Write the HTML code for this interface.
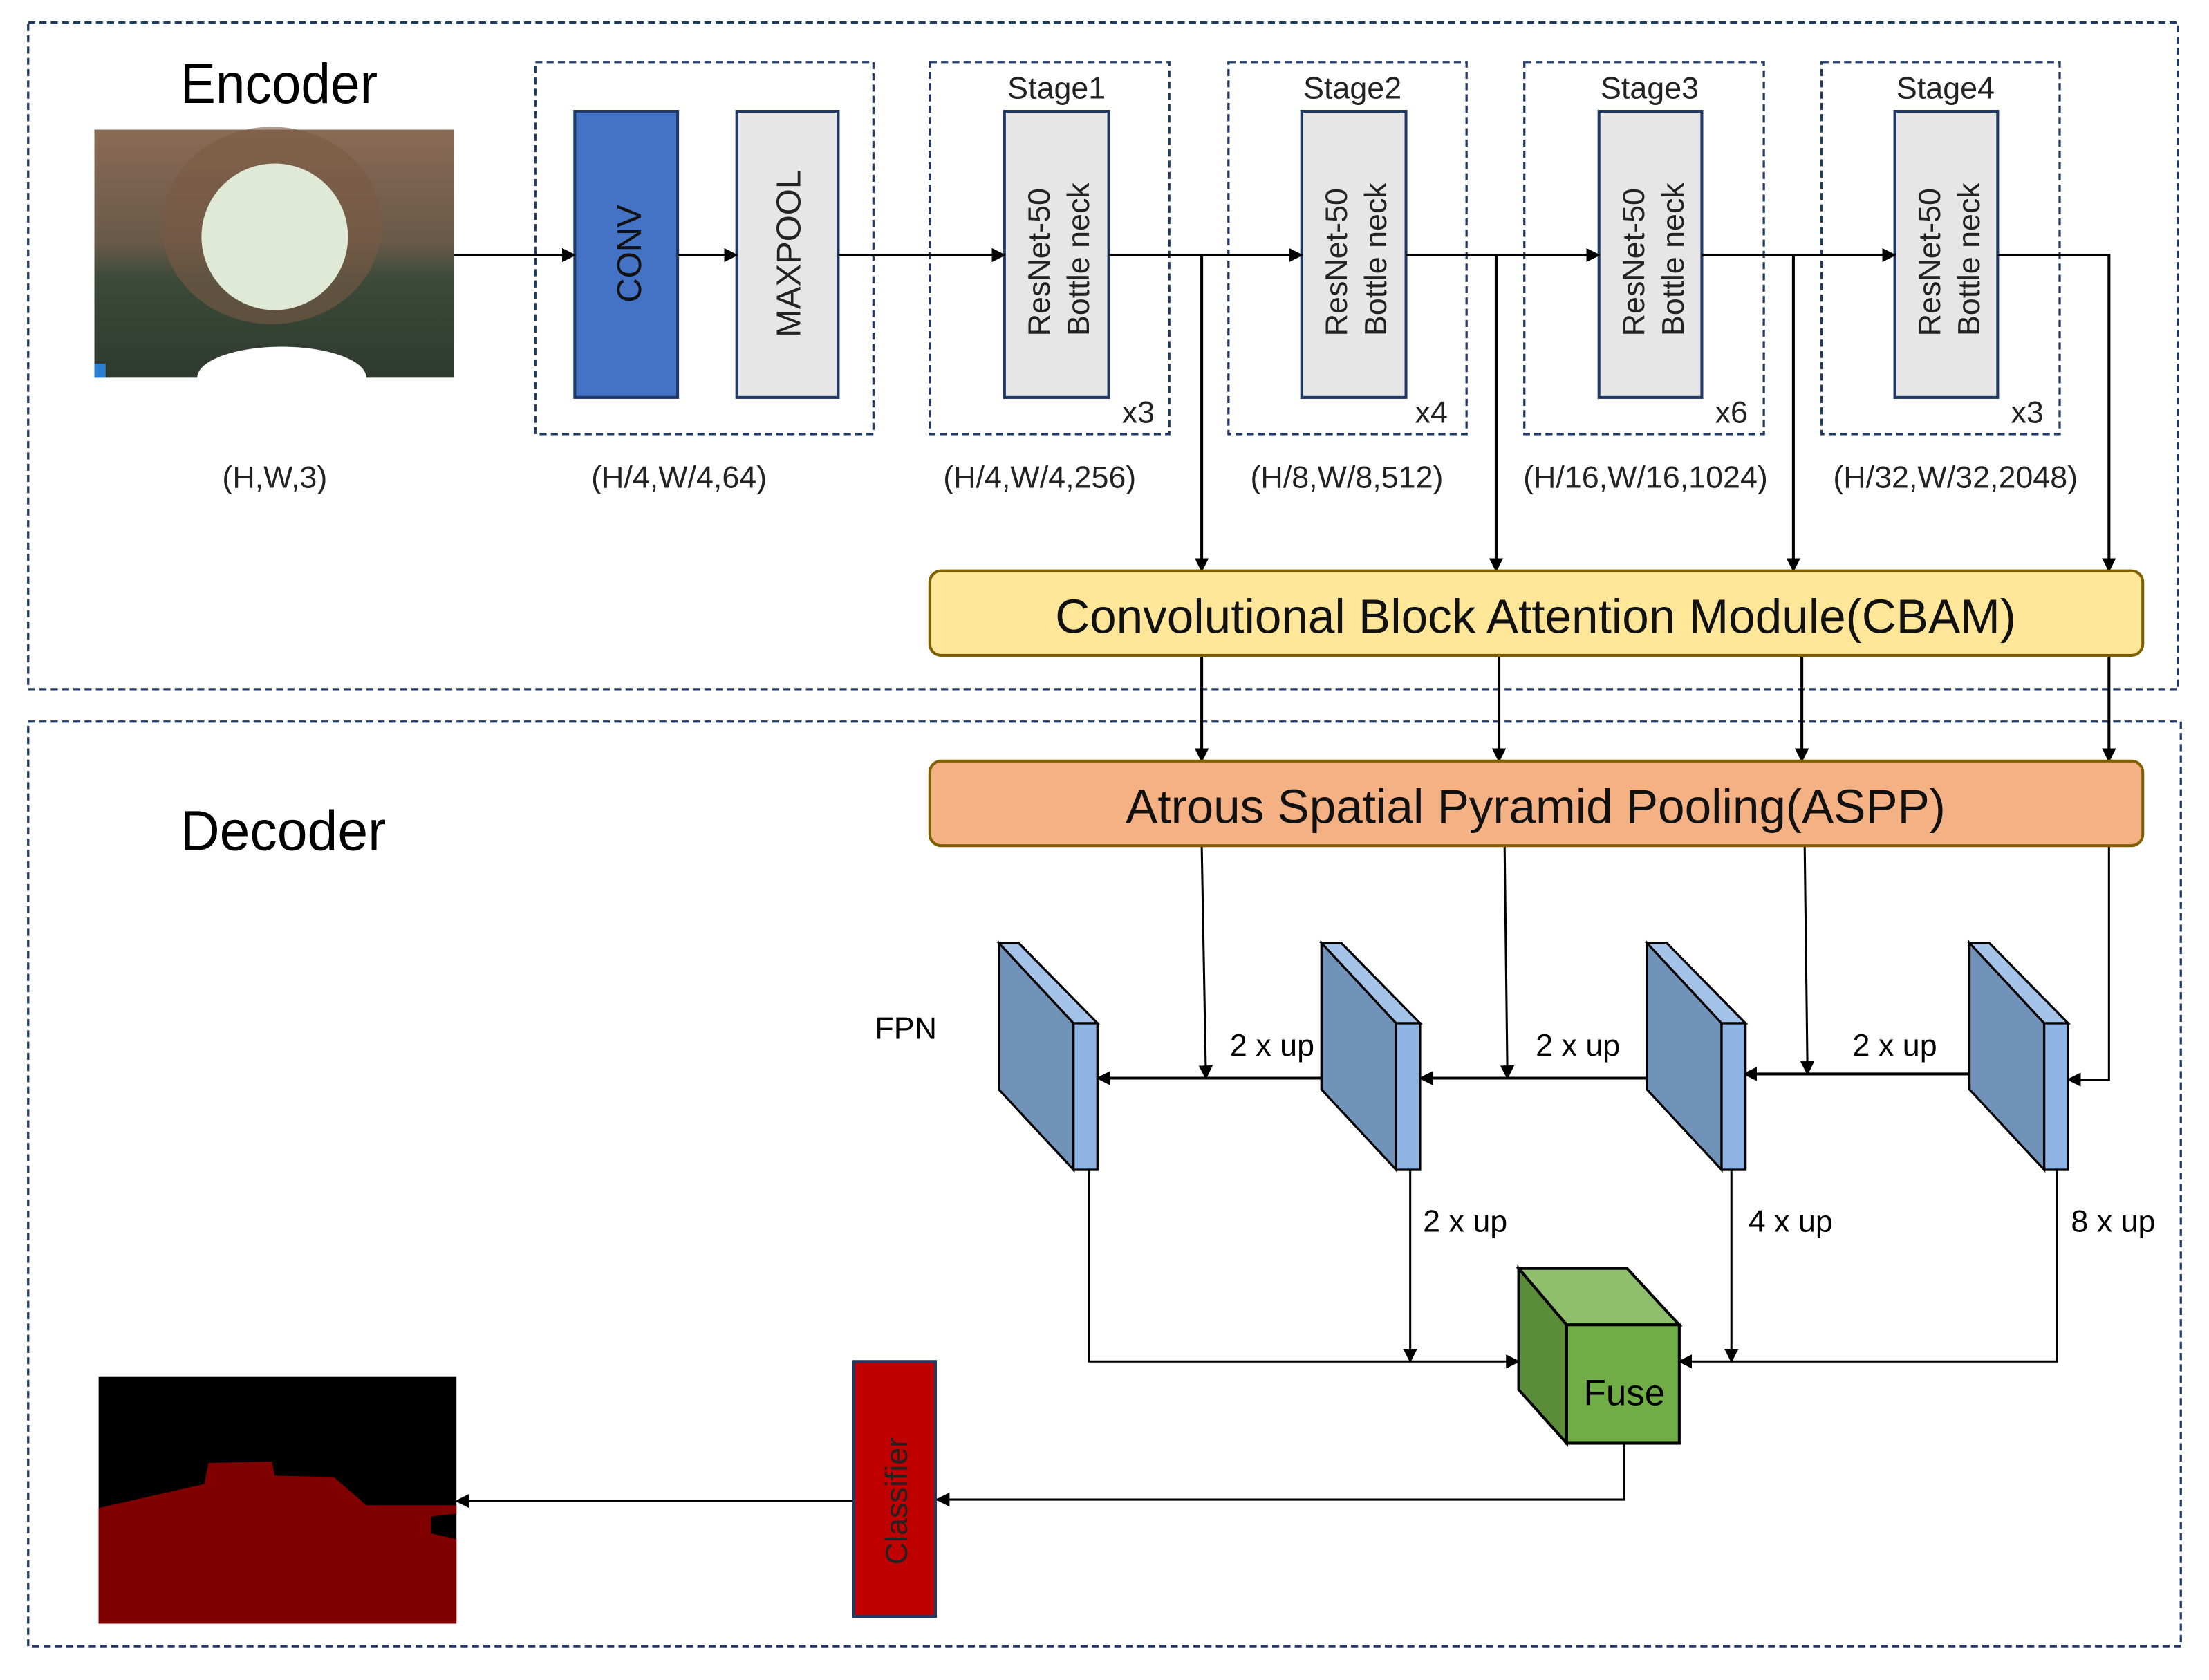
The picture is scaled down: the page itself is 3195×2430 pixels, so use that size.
<!DOCTYPE html>
<html><head><meta charset="utf-8"><style>html,body{margin:0;padding:0;background:#fff}svg{display:block}</style></head>
<body>
<svg width="3195" height="2430" viewBox="0 0 1568 1192" preserveAspectRatio="none" xmlns="http://www.w3.org/2000/svg" font-family="Liberation Sans, sans-serif">
<defs>
<marker id="a" markerWidth="10" markerHeight="10" refX="9" refY="5" orient="auto" markerUnits="userSpaceOnUse"><path d="M0,0 L10,5 L0,10 z" fill="#000"/></marker>
<linearGradient id="ph" x1="0" y1="0" x2="0" y2="1"><stop offset="0" stop-color="#8a6a55"/><stop offset="0.45" stop-color="#6a5a48"/><stop offset="0.6" stop-color="#3c4a3a"/><stop offset="1" stop-color="#2e3a2e"/></linearGradient>
</defs>
<rect width="1568" height="1192" fill="#fff"/>
<g fill="none" stroke="#1f3864" stroke-width="1.6" stroke-dasharray="5,3">
<rect x="20" y="16" width="1526" height="473"/>
<rect x="20" y="512" width="1528" height="656"/>
<rect x="380" y="44" width="240" height="264"/>
<rect x="660" y="44" width="170" height="264"/>
<rect x="872" y="44" width="169" height="264"/>
<rect x="1082" y="44" width="170" height="264"/>
<rect x="1293" y="44" width="169" height="264"/>
</g>
<text x="128" y="73" font-size="40" textLength="140" lengthAdjust="spacingAndGlyphs">Encoder</text>
<text x="128" y="603" font-size="40" textLength="146" lengthAdjust="spacingAndGlyphs">Decoder</text>
<!-- photo -->
<rect x="67" y="92" width="255" height="176" fill="url(#ph)"/>
<ellipse cx="193" cy="160" rx="78" ry="70" fill="#7a5a45" opacity="0.6"/>
<ellipse cx="195" cy="168" rx="52" ry="52" fill="#dfe9d5"/>
<ellipse cx="200" cy="268" rx="60" ry="22" fill="#fff"/>
<rect x="67" y="258" width="8" height="10" fill="#2a7fd0"/>
<!-- blocks -->
<rect x="408" y="79" width="73" height="203" fill="#4472C4" stroke="#1f3864" stroke-width="2"/>
<text transform="translate(455,180) rotate(-90)" font-size="24" text-anchor="middle" fill="#111">CONV</text>
<rect x="523" y="79" width="72" height="203" fill="#e6e6e6" stroke="#1f3864" stroke-width="2"/>
<text transform="translate(568,180) rotate(-90)" font-size="24" text-anchor="middle" fill="#222">MAXPOOL</text>
<g fill="#e6e6e6" stroke="#1f3864" stroke-width="2">
<rect x="713" y="79" width="74" height="203"/><rect x="924" y="79" width="74" height="203"/>
<rect x="1135" y="79" width="73" height="203"/><rect x="1345" y="79" width="73" height="203"/>
</g>
<g font-size="22" fill="#222" text-anchor="middle">
<text transform="translate(745,186) rotate(-90)">ResNet-50</text><text transform="translate(773,184) rotate(-90)">Bottle neck</text>
<text transform="translate(956,186) rotate(-90)">ResNet-50</text><text transform="translate(984,184) rotate(-90)">Bottle neck</text>
<text transform="translate(1167,186) rotate(-90)">ResNet-50</text><text transform="translate(1195,184) rotate(-90)">Bottle neck</text>
<text transform="translate(1377,186) rotate(-90)">ResNet-50</text><text transform="translate(1405,184) rotate(-90)">Bottle neck</text>
</g>
<g font-size="22" fill="#222" text-anchor="middle">
<text x="750" y="70">Stage1</text><text x="960" y="70">Stage2</text><text x="1171" y="70">Stage3</text><text x="1381" y="70">Stage4</text>
<text x="808" y="300">x3</text><text x="1016" y="300">x4</text><text x="1229" y="300">x6</text><text x="1439" y="300">x3</text>
<text x="195" y="346">(H,W,3)</text><text x="482" y="346">(H/4,W/4,64)</text><text x="738" y="346">(H/4,W/4,256)</text>
<text x="956" y="346">(H/8,W/8,512)</text><text x="1168" y="346">(H/16,W/16,1024)</text><text x="1388" y="346">(H/32,W/32,2048)</text>
</g>
<g stroke="#000" stroke-width="2" fill="none" marker-end="url(#a)">
<line x1="322" y1="181" x2="408" y2="181"/><line x1="481" y1="181" x2="523" y2="181"/>
<line x1="595" y1="181" x2="713" y2="181"/><line x1="787" y1="181" x2="924" y2="181"/>
<line x1="998" y1="181" x2="1135" y2="181"/><line x1="1208" y1="181" x2="1345" y2="181"/>
<polyline points="1418,181 1497,181 1497,405"/>
<line x1="853" y1="181" x2="853" y2="405"/><line x1="1062" y1="181" x2="1062" y2="405"/><line x1="1273" y1="181" x2="1273" y2="405"/>
<line x1="853" y1="465" x2="853" y2="540"/><line x1="1064" y1="465" x2="1064" y2="540"/><line x1="1279" y1="465" x2="1279" y2="540"/><line x1="1497" y1="465" x2="1497" y2="540"/>
<line x1="853" y1="600" x2="856" y2="765" stroke-width="1.5"/><line x1="1068" y1="600" x2="1070" y2="765" stroke-width="1.5"/><line x1="1281" y1="600" x2="1283" y2="762" stroke-width="1.5"/>
<polyline points="1497,600 1497,766 1468,766" stroke-width="1.5"/>
<line x1="958" y1="765" x2="779" y2="765"/><line x1="1189" y1="765" x2="1008" y2="765"/><line x1="1419" y1="762" x2="1238" y2="762"/>
<polyline points="773,830 773,966 1078,966" stroke-width="1.5"/>
<line x1="1001" y1="830" x2="1001" y2="966" stroke-width="1.5"/>
<line x1="1229" y1="830" x2="1229" y2="966" stroke-width="1.5"/>
<polyline points="1460,830 1460,966 1192,966" stroke-width="1.5"/>
<polyline points="1153,1024 1153,1064 665,1064" stroke-width="1.5"/>
<line x1="606" y1="1065" x2="324" y2="1065" stroke-width="1.5"/>
</g>
<rect x="660" y="405" width="861" height="60" rx="8" fill="#FFE699" stroke="#7f6000" stroke-width="2"/>
<text x="1090" y="449" font-size="34" text-anchor="middle" fill="#111">Convolutional Block Attention Module(CBAM)</text>
<rect x="660" y="540" width="861" height="60" rx="8" fill="#F4B183" stroke="#7f6000" stroke-width="2"/>
<text x="1090" y="584" font-size="34" text-anchor="middle" fill="#111">Atrous Spatial Pyramid Pooling(ASPP)</text>
<text x="643" y="737" font-size="22" text-anchor="middle">FPN</text>
<g stroke="#000" stroke-width="1.6">
<g id="s"><polygon points="709,669 762,726 762,830 709,773" fill="#7193BA"/><polygon points="709,669 723,669 779,726 762,726" fill="#A5C3E8"/><rect x="762" y="726" width="17" height="104" fill="#8EB4E3"/></g>
<use href="#s" x="229"/><use href="#s" x="460"/><use href="#s" x="689"/>
</g>
<g font-size="22" text-anchor="middle">
<text x="903" y="749">2 x up</text><text x="1120" y="749">2 x up</text><text x="1345" y="749">2 x up</text>
<text x="1040" y="874">2 x up</text><text x="1271" y="874">4 x up</text><text x="1500" y="874">8 x up</text>
</g>
<g stroke="#000" stroke-width="2">
<polygon points="1078,900 1155,900 1192,940 1112,940" fill="#8FBF6C"/>
<polygon points="1078,900 1112,940 1112,1024 1078,986" fill="#5B8C3A"/>
<rect x="1112" y="940" width="80" height="84" fill="#70AD47"/>
</g>
<text x="1153" y="997" font-size="26" text-anchor="middle">Fuse</text>
<rect x="606" y="966" width="58" height="181" fill="#C00000" stroke="#1f3864" stroke-width="2"/>
<text transform="translate(644,1065) rotate(-90)" font-size="22" text-anchor="middle" fill="#222">Classifier</text>
<rect x="70" y="977" width="254" height="175" fill="#000"/>
<polygon points="70,1070 145,1053 148,1038 193,1037 195,1047 237,1048 260,1068 324,1068 324,1074 306,1076 306,1088 324,1092 324,1152 70,1152" fill="#800000"/>
</svg>
</body></html>
